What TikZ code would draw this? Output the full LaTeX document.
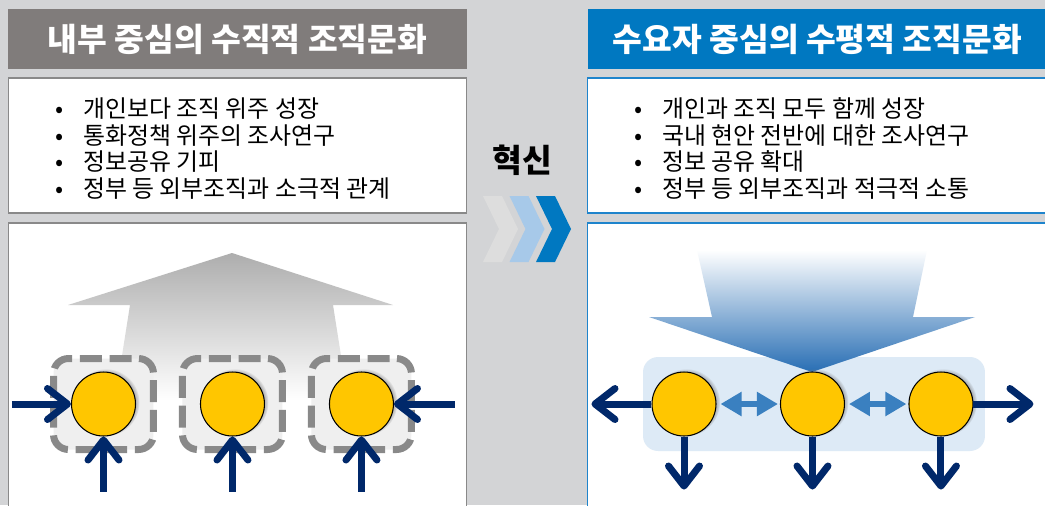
\documentclass[tikz,border=0pt]{standalone}
\usepackage{fontspec}
\setmainfont{Noto Sans CJK KR}
\usepackage{xcolor}
\usetikzlibrary{shapes,arrows.meta,positioning,shadows,shapes.geometric}

\definecolor{bggray}{RGB}{211,212,214}
\definecolor{titlegray}{RGB}{128,124,123}
\definecolor{titleblue}{RGB}{0,120,193}
\definecolor{framegray}{RGB}{137,137,137}
\definecolor{frameblue}{RGB}{30,132,204}
\definecolor{ballyellow}{RGB}{255,198,0}
\definecolor{navy}{RGB}{0,40,106}
\definecolor{linkblue}{RGB}{58,128,192}
\definecolor{bandblue}{RGB}{221,234,246}
\definecolor{dashfill}{RGB}{239,239,239}
\definecolor{chevgray}{RGB}{221,221,221}
\definecolor{chevlight}{RGB}{167,201,233}
\definecolor{shaftblue}{RGB}{40,110,180}

\newcommand{\bul}{\makebox[0.56cm][l]{\textbullet}}

\begin{document}
\begin{tikzpicture}[x=0.02cm, y=-0.02cm, node distance=2.13cm,
    titlebar/.style={fill=#1, text=white, minimum width=9.18cm, minimum height=1.2cm, font=\fontsize{18.4}{22}\selectfont\bfseries},
    listbox/.style={draw=#1, fill=white, line width=0.6pt, minimum width=9.18cm, minimum height=2.7cm},
    panelbox/.style={draw=#1, fill=white, line width=0.6pt, minimum width=9.18cm, minimum height=5.84cm},
    listtext/.style={align=left, anchor=west, inner xsep=0pt, font=\fontsize{13.6}{15.2}\selectfont},
    ball/.style={circle, fill=ballyellow, draw=black, line width=0.6pt, minimum size=1.28cm, inner sep=0pt,
        circular drop shadow={shadow xshift=0.04cm, shadow yshift=0.03cm, shadow scale=1.06, opacity=0.7}},
    dashbox/.style={draw=framegray, fill=dashfill, line width=0.14cm, dash pattern=on 0.44cm off 0.154cm,
        dash phase=0.456cm, rounded corners=0.3cm, minimum width=2cm, minimum height=1.82cm},
    pusharrow/.style={navy, line width=0.14cm, -{Straight Barb[length=0.4cm, width=0.62cm, round]}},
    linkarrow/.style={linkblue, line width=0.13cm, {Triangle[length=0.42cm, width=0.46cm]}-{Triangle[length=0.42cm, width=0.46cm]},
        shorten <=0.08cm, shorten >=0.04cm}]

    \fill[bggray] (0,0) rectangle (1045,505);
    \clip (0,0) rectangle (1045,505);

    % left column
    \node[titlebar=titlegray] (ltitle) at (237.5,39) {내부 중심의 수직적 조직문화};
    \node[listbox=framegray, below of=ltitle] (llist) {};
    \node[panelbox=framegray, node distance=4.47cm, below of=llist] (lpanel) {};
    \node[listtext] (ltext) at (55,148.5) {\bul 개인보다 조직 위주 성장\\ \bul 통화정책 위주의 조사연구\\ \bul 정보공유 기피\\ \bul 정부 등 외부조직과 소극적 관계};

    % right column
    \node[titlebar=titleblue, node distance=11.6cm, right of=ltitle] (rtitle) {수요자 중심의 수평적 조직문화};
    \node[listbox=frameblue, below of=rtitle] (rlist) {};
    \node[panelbox=frameblue, node distance=4.47cm, below of=rlist] (rpanel) {};
    \node[listtext] (rtext) at (634,148.5) {\bul 개인과 조직 모두 함께 성장\\ \bul 국내 현안 전반에 대한 조사연구\\ \bul 정보 공유 확대\\ \bul 정부 등 외부조직과 적극적 소통};

    % middle
    \node[font=\fontsize{18.4}{22}\selectfont\bfseries] (shift) at (522,160) {혁신};
    \foreach \x/\c in {483/chevgray, 509.5/chevlight, 536/titleblue}
        \fill[\c] (\x,196) -- ++(19,0) -- ++(16,33) -- ++(-16,33) -- ++(-19,0) -- ++(16,-33) -- cycle;

    % vertical culture
    \shade[top color=black!32, bottom color=white] (232,253) -- (393,305) -- (333,305) -- (348,400)
        -- (115,400) -- (130,305) -- (68,305) -- cycle;
    \begin{scope}[node distance=2.58cm]
        \node[dashbox] (lb1) at (103.5,404) {};
        \node[dashbox, right of=lb1] (lb2) {};
        \node[dashbox, right of=lb2] (lb3) {};
        \foreach \n in {1,2,3} \node[ball] (lc\n) at (lb\n) {};
    \end{scope}
    \coordinate[left=1.18cm of lc1] (lin);
    \coordinate[right=1.22cm of lc3] (rin);
    \draw[pusharrow] (lin) -- (lc1);
    \draw[pusharrow] (rin) -- (lc3);
    \foreach \n in {1,2,3} {
        \coordinate[below=1.1cm of lc\n] (lup\n);
        \draw[pusharrow] (lup\n) -- (lc\n);
    }

    % horizontal culture
    \node[fill=bandblue, rounded corners=0.3cm, minimum width=6.84cm, minimum height=1.88cm] (rband) at (814,404) {};
    \shade[top color=white, bottom color=shaftblue] (697,250) -- (927,250) -- (913,317) -- (975,317)
        -- (812,372) -- (649,317) -- (712,317) -- cycle;
    \begin{scope}[node distance=2.57cm]
        \node[ball] (rc1) at (684,404) {};
        \node[ball, right of=rc1] (rc2) {};
        \node[ball, right of=rc2] (rc3) {};
    \end{scope}
    \coordinate[left=1.2cm of rc1] (rout1);
    \coordinate[right=1.2cm of rc3] (rout3);
    \draw[pusharrow] (rc1) -- (rout1);
    \draw[pusharrow] (rc3) -- (rout3);
    \foreach \n in {1,2,3} {
        \coordinate[below=1.06cm of rc\n] (rdown\n);
        \draw[pusharrow] (rc\n) -- (rdown\n);
    }
    \draw[linkarrow] (rc1) -- (rc2);
    \draw[linkarrow] (rc2) -- (rc3);

\end{tikzpicture}
\end{document}
